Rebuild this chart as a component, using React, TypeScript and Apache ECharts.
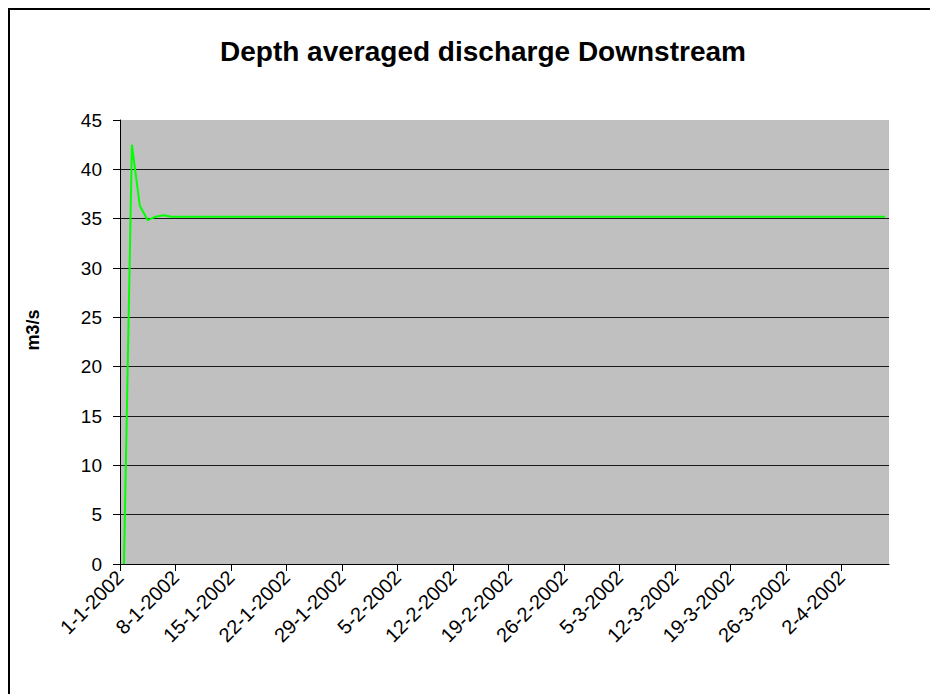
import React, { useEffect, useRef } from "react";
import * as echarts from "echarts";

const TITLE = "Depth averaged discharge Downstream";
const Y_NAME = "m3/s";
const START = { year: 2002, month: 1, day: 1 };
const DAY_COUNT = 97;
const TICK_EVERY_DAYS = 7;

// daily discharge values (m3/s), 1-1-2002 .. 7-4-2002
const discharge: number[] = [
  0, 42.5, 36.3, 34.85, 35.2, 35.35, 35.2, 35.2, 35.2, 35.2,
  35.2, 35.2, 35.2, 35.2, 35.2, 35.2, 35.2, 35.2, 35.2, 35.2,
  35.2, 35.2, 35.2, 35.2, 35.2, 35.2, 35.2, 35.2, 35.2, 35.2,
  35.2, 35.2, 35.2, 35.2, 35.2, 35.2, 35.2, 35.2, 35.2, 35.2,
  35.2, 35.2, 35.2, 35.2, 35.2, 35.2, 35.2, 35.2, 35.2, 35.2,
  35.2, 35.2, 35.2, 35.2, 35.2, 35.2, 35.2, 35.2, 35.2, 35.2,
  35.2, 35.2, 35.2, 35.2, 35.2, 35.2, 35.2, 35.2, 35.2, 35.2,
  35.2, 35.2, 35.2, 35.2, 35.2, 35.2, 35.2, 35.2, 35.2, 35.2,
  35.2, 35.2, 35.2, 35.2, 35.2, 35.2, 35.2, 35.2, 35.2, 35.2,
  35.2, 35.2, 35.2, 35.2, 35.2, 35.2, 35.2,
];

const Y_MIN = 0;
const Y_MAX = 45;
const Y_STEP = 5;

function buildDates(): string[] {
  const out: string[] = [];
  for (let i = 0; i < DAY_COUNT; i++) {
    const d = new Date(Date.UTC(START.year, START.month - 1, START.day + i));
    out.push(`${d.getUTCDate()}-${d.getUTCMonth() + 1}-${d.getUTCFullYear()}`);
  }
  return out;
}
const dates = buildDates();
const tickDays: number[] = dates.map((_, i) => i).filter((i) => i % TICK_EVERY_DAYS === 0);

const FONT = 'Arial, "Liberation Sans", sans-serif';

export default function App() {
  const ref = useRef<HTMLDivElement>(null);
  useEffect(() => {
    if (!ref.current) return;
    const chart = echarts.init(ref.current, null, { renderer: "svg" });
    const nLines = (Y_MAX - Y_MIN) / Y_STEP + 1;
    const splitColors: string[] = [];
    for (let i = 0; i < nLines; i++) splitColors.push(i === nLines - 1 ? "rgba(0,0,0,0)" : "#1a1a1a");
    // each day is plotted in the middle of its day slot
    const seriesData = discharge.map((v, i) => [i + 0.5, v]);
    chart.setOption({
      animation: false,
      backgroundColor: "#ffffff",
      textStyle: { fontFamily: FONT },
      title: {
        text: TITLE,
        left: 220,
        top: 37,
        padding: 0,
        textStyle: { fontFamily: FONT, fontSize: 28, fontWeight: "bold", color: "#000" },
      },
      grid: {
        left: 120,
        right: 41,
        top: 120,
        bottom: 130,
        show: true,
        backgroundColor: "#c0c0c0",
        borderWidth: 0,
      },
      xAxis: {
        type: "value",
        min: 0,
        max: DAY_COUNT,
        interval: TICK_EVERY_DAYS,
        axisLine: { show: true, onZero: false, lineStyle: { color: "#000", width: 1 } },
        axisTick: { show: true, length: 7, inside: false, customValues: tickDays, lineStyle: { color: "#000" } },
        axisLabel: {
          customValues: tickDays,
          rotate: 45,
          fontFamily: FONT,
          fontSize: 20,
          color: "#000",
          margin: 10,
          formatter: (v: number) => dates[Math.round(v)] ?? "",
        },
        splitLine: { show: false },
      },
      yAxis: {
        type: "value",
        min: Y_MIN,
        max: Y_MAX,
        interval: Y_STEP,
        axisLine: { show: true, lineStyle: { color: "#000", width: 1 } },
        axisTick: { show: true, length: 7, inside: false, lineStyle: { color: "#000" } },
        axisLabel: { fontFamily: FONT, fontSize: 19, color: "#000", margin: 18 },
        splitLine: { show: true, lineStyle: { color: splitColors, width: 1 } },
      },
      graphic: [
        {
          type: "rect",
          shape: { x: 9, y: 9, width: 1000, height: 1000 },
          style: { fill: "none", stroke: "#000", lineWidth: 2 },
          silent: true,
          z: 100,
        },
        {
          type: "text",
          x: 33,
          y: 330,
          rotation: Math.PI / 2,
          style: {
            text: Y_NAME,
            fontFamily: FONT,
            fontSize: 18,
            fontWeight: "bold",
            fill: "#000",
            align: "center",
            verticalAlign: "middle",
          },
          silent: true,
        },
      ],
      series: [
        {
          type: "line",
          data: seriesData,
          showSymbol: false,
          symbol: "none",
          lineStyle: { color: "#00ff00", width: 2 },
          itemStyle: { color: "#00ff00" },
        },
      ],
    });
    return () => chart.dispose();
  }, []);
  return (
    <div
      ref={ref}
      style={{ position: "absolute", left: 0, top: 0, width: 930, height: 694 }}
    />
  );
}
